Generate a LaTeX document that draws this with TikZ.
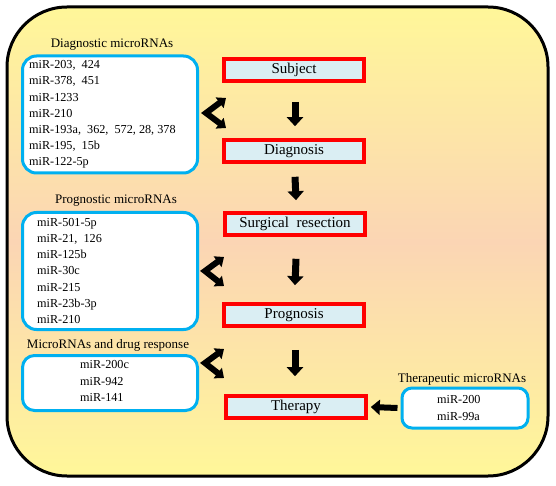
\documentclass[tikz,border=0pt]{standalone}
\usepackage{fontspec}
\setmainfont{Liberation Serif}
\usetikzlibrary{arrows.meta,calc}
\definecolor{ytop}{RGB}{255,247,153}
\definecolor{peach}{RGB}{251,213,180}
\definecolor{stagefill}{RGB}{218,238,243}
\definecolor{cyanb}{RGB}{0,176,240}
\definecolor{redb}{RGB}{255,0,0}
\begin{document}
\begin{tikzpicture}[x=1pt,y=-1pt,
  stagebox/.style={draw=redb, line width=3.6pt, fill=stagefill, minimum width=140pt, minimum height=22pt, inner sep=0pt, font=\fontsize{15}{17}\selectfont},
  listbox/.style={draw=cyanb, line width=3pt, fill=white, rounded corners=14pt, inner sep=0pt},
  listtext/.style={align=left, inner sep=0pt, font=\fontsize{12.2}{16.2}\selectfont},
  titletext/.style={inner sep=0pt, font=\fontsize{13}{14}\selectfont},
  downarrow/.style={line width=7pt, -{Triangle[width=16pt,length=9pt]}},
  leftarrow/.style={line width=6pt, -{Triangle[width=15pt,length=9pt]}},
  bentarrow/.style={line width=6pt, line join=miter, {Triangle[width=13pt,length=8pt]}-{Triangle[width=13pt,length=8pt]}}]
\useasboundingbox (0,0) rectangle (556,486);
% outer panel
\path[draw=black, line width=3pt, rounded corners=60pt, top color=ytop, bottom color=ytop, middle color=peach]
  (7,7) rectangle (548,476);
% stages
\node[stagebox] (subject) at (294,70) {Subject};
\node[stagebox] (diagnosis) at (294,151) {Diagnosis};
\node[stagebox] (surgery) at (295,224) {Surgical\ \ resection};
\node[stagebox] (prognosis) at (294,315) {Prognosis};
\node[stagebox] (therapy) at (296,407) {Therapy};
% down arrows
\draw[downarrow] ($(subject.south)+(1,19)$) -- ($(diagnosis.north)+(1,-12)$);
\draw[downarrow] ($(diagnosis.south)+(1,13)$) -- ($(surgery.north)+(1,-11)$);
\draw[downarrow] ($(surgery.south)+(1,22)$) -- ($(prognosis.north)+(1,-17)$);
\draw[downarrow] ($(prognosis.south)+(1,22)$) -- ($(therapy.north)+(-1,-18)$);
% list boxes
\node[listbox, minimum width=175pt, minimum height=117pt, anchor=north west] (diagbox) at (21,54.5) {};
\node[listtext, anchor=west] (diagtxt) at ([xshift=8pt]diagbox.west) {miR-203,\enspace 424\\miR-378,\enspace 451\\miR-1233\\miR-210\\miR-193a,\enspace 362,\enspace 572, 28, 378\\miR-195,\enspace 15b\\miR-122-5p};
\node[titletext] (diagtitle) at (112,45) {Diagnostic microRNAs};
\node[listbox, minimum width=175pt, minimum height=117pt, anchor=north west] (progbox) at (21,211) {};
\node[listtext, anchor=west] (progtxt) at ([xshift=16pt]progbox.west) {miR-501-5p\\miR-21,\enspace 126\\miR-125b\\miR-30c\\miR-215\\miR-23b-3p\\miR-210};
\node[titletext] (progtitle) at (116,201) {Prognostic microRNAs};
\node[listbox, minimum width=175pt, minimum height=55pt, anchor=north west, rounded corners=12pt] (drugbox) at (21,354) {};
\node[listtext, anchor=west] (drugtxt) at (80,381) {miR-200c\\miR-942\\miR-141};
\node[titletext] (drugtitle) at (108,345) {MicroRNAs and drug response};
\node[listbox, minimum width=126pt, minimum height=40pt, rounded corners=10pt] (therbox) at (465,408) {};
\node[listtext, anchor=west] (thertxt) at (437,408) {miR-200\\miR-99a};
\node[titletext] (thertitle) at (462,379) {Therapeutic microRNAs};
% left arrow
\draw[leftarrow] ($(therbox.west)+(-3,0)$) -- ($(therapy.east)+(3,0)$);
% bent double arrows
\coordinate (b1t) at (226,98); \coordinate (b1v) at (206,113); \coordinate (b1b) at (226,128);
\coordinate (b2t) at (224,257); \coordinate (b2v) at (205,271); \coordinate (b2b) at (224,286);
\coordinate (b3t) at (224,349); \coordinate (b3v) at (205,363); \coordinate (b3b) at (224,378);
\draw[bentarrow] (b1t) -- (b1v) -- (b1b);
\draw[bentarrow] (b2t) -- (b2v) -- (b2b);
\draw[bentarrow] (b3t) -- (b3v) -- (b3b);
\end{tikzpicture}
\end{document}
